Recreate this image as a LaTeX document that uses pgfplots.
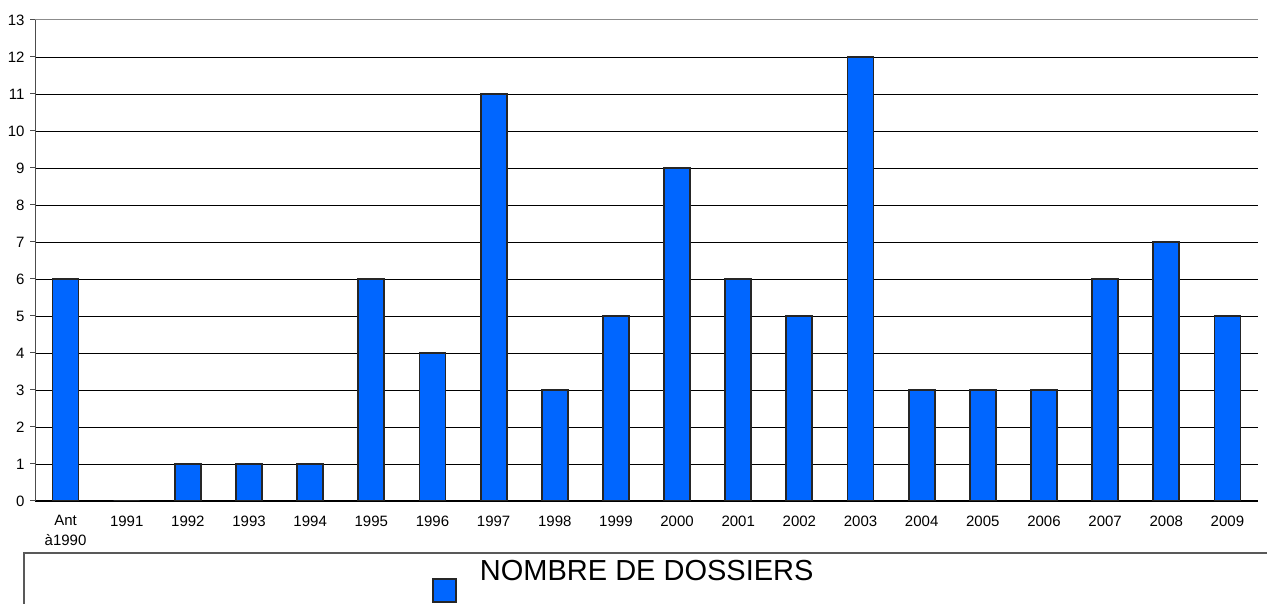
\documentclass[border=0pt]{standalone}
\usepackage{pgfplots}
\pgfplotsset{compat=1.18}
\usepackage{fontspec}
\setmainfont{Liberation Sans}
\definecolor{barblue}{HTML}{0066FF}
\begin{document}
\begin{tikzpicture}[x=1pt,y=1pt]
\clip (0,0) rectangle (1267,604);
\draw[line width=1.2pt, draw=black!65] (24,-20) -- (24,51) -- (1300,51);
\begin{axis}[
  at={(35pt,103pt)}, anchor=south west,
  scale only axis, width=1223pt, height=481pt,
  xmin=-0.5, xmax=19.5, ymin=0, ymax=13,
  axis x line*=bottom, axis y line*=left,
  x axis line style={black, line width=1pt, -},
  y axis line style={black!70, line width=1pt, -},
  ytick={0,...,12}, extra y ticks={13},
  extra y tick style={major grid style={black!45, line width=1pt}},
  ymajorgrids, major grid style={black, line width=0.9pt},
  xtick={0,...,19},
  xticklabels={{Ant\\à1990},1991,1992,1993,1994,1995,1996,1997,1998,1999,2000,2001,2002,2003,2004,2005,2006,2007,2008,2009},
  xticklabel style={align=center, font=\fontsize{15}{19.5}\selectfont, yshift=-6pt},
  yticklabel style={font=\fontsize{15}{17}\selectfont, xshift=-2pt},
  /pgf/number format/assume math mode=true,
  x tick style={draw=none},
  minor xtick={-0.5,0.5,...,19.5},
  minor x tick style={black, line width=1pt},
  y tick style={black!70, line width=1pt},
  tick align=outside, major tick length=5pt, minor tick length=5pt,
  ybar, bar width=26pt,
  legend style={at={(rel axis cs:0.3246,-0.1185)}, anchor=north west, draw=none, fill=none,
    font=\fontsize{29}{34}\selectfont, inner sep=0pt},
  legend image code/.code={\draw[fill=barblue, draw=black!85, line width=1.8pt] (0pt,-31pt) rectangle (23pt,-8pt); \path (44pt,0pt);},
]
\addplot[fill=barblue, draw=black!85, line width=1.8pt] coordinates {
(0,6) (1,0) (2,1) (3,1) (4,1) (5,6) (6,4) (7,11) (8,3) (9,5)
(10,9) (11,6) (12,5) (13,12) (14,3) (15,3) (16,3) (17,6) (18,7) (19,5)};
\addlegendentry{NOMBRE DE DOSSIERS}
\end{axis}
\end{tikzpicture}
\end{document}
